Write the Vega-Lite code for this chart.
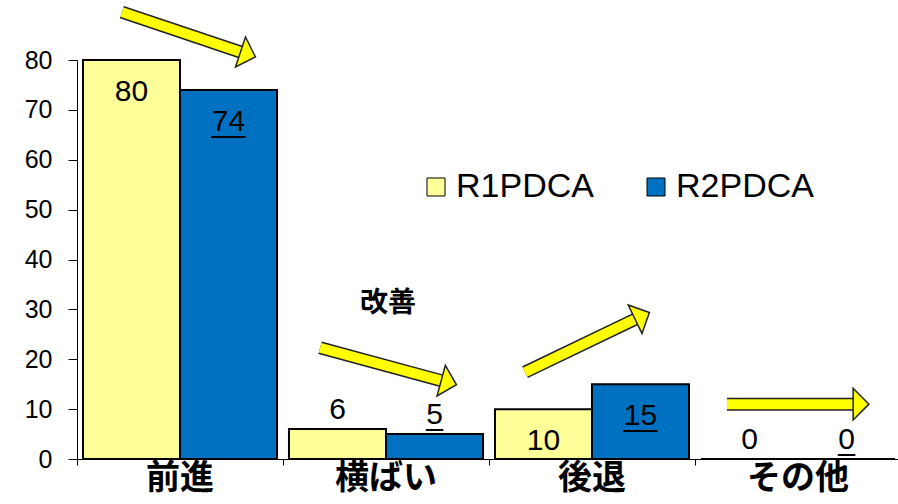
{
  "$schema": "https://vega.github.io/schema/vega-lite/v6.json",
  "width": 824,
  "height": 399,
  "autosize": {"type": "none"},
  "padding": {"left": 77, "top": 60, "right": 0, "bottom": 45},
  "background": "white",
  "config": {"view": {"stroke": null}, "font": "Liberation Sans"},
  "datasets": {
    "bars": [
      {"category": "前進", "series": "R1PDCA", "value": 80},
      {"category": "前進", "series": "R2PDCA", "value": 74},
      {"category": "横ばい", "series": "R1PDCA", "value": 6},
      {"category": "横ばい", "series": "R2PDCA", "value": 5},
      {"category": "後退", "series": "R1PDCA", "value": 10},
      {"category": "後退", "series": "R2PDCA", "value": 15},
      {"category": "その他", "series": "R1PDCA", "value": 0},
      {"category": "その他", "series": "R2PDCA", "value": 0}
    ],
    "arrows": [
      {"arrow": 1, "x": 0.218, "y": 89.6, "x2": 0.83, "y2": 81.1},
      {"arrow": 2, "x": 1.18, "y": 22.3, "x2": 1.805, "y2": 15.3},
      {"arrow": 3, "x": 2.175, "y": 17.4, "x2": 2.744, "y2": 28.7},
      {"arrow": 4, "x": 3.155, "y": 11.0, "x2": 3.806, "y2": 11.0}
    ],
    "notes": [{"text": "改善", "x": 1.51, "y": 31.1}]
  },
  "layer": [
    {
      "data": {"name": "bars"},
      "encoding": {
        "x": {
          "field": "category",
          "type": "nominal",
          "sort": ["前進", "横ばい", "後退", "その他"],
          "scale": {"paddingInner": 0.058, "paddingOuter": 0.029},
          "axis": {
            "title": null,
            "labelAngle": 0,
            "labelFont": "Noto Sans CJK JP",
            "labelFontWeight": "bold",
            "labelFontSize": 34,
            "labelColor": "black",
            "labelPadding": 2,
            "ticks": false,
            "domainColor": "black",
            "domainWidth": 1,
            "grid": false,
            "encode": {
              "labels": {
                "update": {
                  "dx": {"signal": "datum.value === '後退' ? 26 : 0"},
                  "dy": {"signal": "datum.value === 'その他' ? 6 : 0"}
                }
              }
            }
          }
        },
        "xOffset": {
          "field": "series",
          "type": "nominal",
          "scale": {"paddingInner": 0, "paddingOuter": 0}
        },
        "y": {
          "field": "value",
          "type": "quantitative",
          "scale": {"domain": [0, 80], "nice": false},
          "axis": {
            "title": null,
            "values": [0, 10, 20, 30, 40, 50, 60, 70, 80],
            "grid": false,
            "labelFontSize": 25,
            "labelColor": "black",
            "labelPadding": 16,
            "tickSize": 9,
            "tickColor": "black",
            "domainColor": "black"
          }
        }
      },
      "layer": [
        {
          "mark": {"type": "bar", "stroke": "black", "strokeWidth": 2},
          "encoding": {
            "color": {
              "field": "series",
              "type": "nominal",
              "scale": {"domain": ["R1PDCA", "R2PDCA"], "range": ["#FFFF99", "#0070C0"]},
              "legend": {
                "orient": "none",
                "legendX": 342,
                "legendY": 110,
                "direction": "horizontal",
                "title": null,
                "symbolType": "square",
                "symbolSize": 324,
                "symbolStrokeColor": "black",
                "symbolStrokeWidth": 1,
                "symbolOpacity": 1,
                "labelFontSize": 34,
                "labelColor": "black",
                "labelOffset": 3,
                "columnPadding": 45,
                "labelLimit": 300
              }
            }
          }
        },
        {
          "transform": [{"filter": "datum.value >= 10"}],
          "mark": {"type": "text", "baseline": "alphabetic", "dy": 41, "fontSize": 30, "color": "black"},
          "encoding": {"text": {"field": "value"}}
        },
        {
          "transform": [{"filter": "datum.value < 10"}],
          "mark": {"type": "text", "baseline": "alphabetic", "dy": -10, "fontSize": 30, "color": "black"},
          "encoding": {"text": {"field": "value"}}
        },
        {
          "transform": [{"filter": "datum.series === 'R2PDCA' && datum.value >= 10"}],
          "mark": {"type": "text", "baseline": "alphabetic", "dy": 42, "fontSize": 30, "color": "black", "text": "__"}
        },
        {
          "transform": [{"filter": "datum.series === 'R2PDCA' && datum.value < 10"}],
          "mark": {"type": "text", "baseline": "alphabetic", "dy": -9, "fontSize": 30, "color": "black", "text": "_"}
        }
      ]
    },
    {
      "data": {"name": "arrows"},
      "transform": [
        {"calculate": "atan2(-(datum.y2 - datum.y) * 4.9875, (datum.x2 - datum.x) * 206) * 180 / PI", "as": "angle"}
      ],
      "encoding": {
        "x": {
          "field": "x",
          "type": "quantitative",
          "scale": {"domain": [0, 4], "nice": false, "zero": false},
          "axis": {
            "orient": "bottom",
            "values": [0, 1, 2, 3],
            "labels": false,
            "domain": false,
            "grid": false,
            "ticks": true,
            "tickSize": 6,
            "tickColor": "black",
            "title": null
          }
        },
        "y": {"field": "y", "type": "quantitative", "axis": {"title": null}}
      },
      "layer": [
        {
          "mark": {"type": "rule", "color": "#222222", "strokeWidth": 13, "strokeCap": "butt"},
          "encoding": {"x2": {"field": "x2"}, "y2": {"field": "y2"}}
        },
        {
          "mark": {"type": "rule", "color": "#FFFF00", "strokeWidth": 10, "strokeCap": "butt"},
          "encoding": {"x2": {"field": "x2"}, "y2": {"field": "y2"}}
        },
        {
          "mark": {
            "type": "point",
            "shape": "M -0.5 -1 L 0.5 0 L -0.5 1 Z",
            "size": 1000,
            "filled": true,
            "fill": "#FFFF00",
            "stroke": "#222222",
            "strokeWidth": 1.5,
            "opacity": 1
          },
          "encoding": {
            "x": {"field": "x2", "type": "quantitative"},
            "y": {"field": "y2", "type": "quantitative"},
            "angle": {"field": "angle", "type": "quantitative", "scale": null}
          }
        },
        {
          "data": {"name": "notes"},
          "mark": {"type": "text", "font": "Noto Sans CJK JP", "fontWeight": "bold", "fontSize": 28, "color": "black", "baseline": "middle"},
          "encoding": {
            "x": {"field": "x", "type": "quantitative"},
            "y": {"field": "y", "type": "quantitative"},
            "text": {"field": "text"}
          }
        }
      ]
    }
  ],
  "resolve": {"scale": {"x": "independent"}}
}
